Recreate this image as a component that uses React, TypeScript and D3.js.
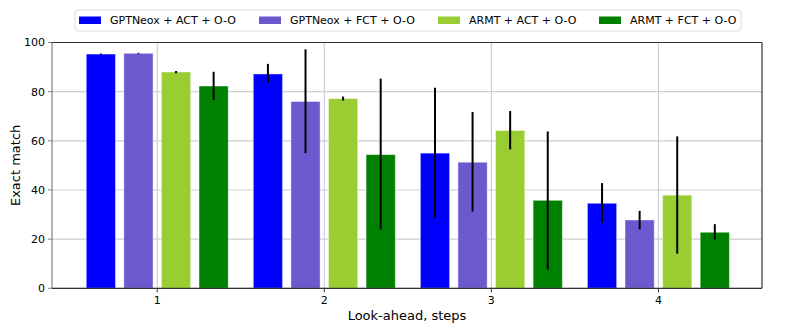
import React from 'react';
import * as d3 from 'd3';

const steps = [1, 2, 3, 4];
const seriesNames = ['GPTNeox + ACT + O-O', 'GPTNeox + FCT + O-O', 'ARMT + ACT + O-O', 'ARMT + FCT + O-O'];
const seriesColors = ['#0000ff', '#6a5acd', '#9acd32', '#008000'];

// exact match per look-ahead step
const gptActVals = [95.3, 87.2, 55.0, 34.6];
const gptFctVals = [95.6, 76.0, 51.3, 27.8];
const armtActVals = [88.0, 77.2, 64.2, 37.9];
const armtFctVals = [82.3, 54.4, 35.8, 22.8];

// error bar ends
const gptActLow = [95.0, 83.5, 28.5, 26.6];
const gptActHigh = [95.5, 91.3, 81.6, 42.8];
const gptFctLow = [95.4, 55.0, 31.2, 24.0];
const gptFctHigh = [95.8, 97.2, 71.7, 31.5];
const armtActLow = [87.5, 76.4, 56.5, 14.1];
const armtActHigh = [88.4, 78.0, 72.1, 61.8];
const armtFctLow = [76.6, 23.9, 7.6, 19.8];
const armtFctHigh = [88.1, 85.3, 63.8, 26.1];

const yTicks = [0, 20, 40, 60, 80, 100];

const W = 797;
const H = 332;
const font = 'DejaVu Sans, sans-serif';

export default function App() {
  const values = [gptActVals, gptFctVals, armtActVals, armtFctVals];
  const lows = [gptActLow, gptFctLow, armtActLow, armtFctLow];
  const highs = [gptActHigh, gptFctHigh, armtActHigh, armtFctHigh];

  const x = d3.scaleLinear().domain([0.37, 4.62]).range([52, 762]);
  const y = d3.scaleLinear().domain([0, 100]).range([288.3, 42.5]);

  const step = 0.225; // distance between bar centres
  const barW = 0.175; // bar width, in x units
  const offset = (i: number) => (i - 1.5) * step;

  const [x0, x1] = x.range();
  const [y0, y1] = y.range();

  return (
    <svg
      width={W}
      height={H}
      viewBox={`0 0 ${W} ${H}`}
      style={{ position: 'absolute', left: 0, top: 0, background: '#fff' }}
      fontFamily={font}
    >
      {/* grid */}
      <g stroke="#cfcfcf" strokeWidth={1.2}>
        {yTicks.map((t) => (
          <line key={'gy' + t} x1={x0} x2={x1} y1={y(t)} y2={y(t)} />
        ))}
        {steps.map((s) => (
          <line key={'gx' + s} x1={x(s)} x2={x(s)} y1={y0} y2={y1} />
        ))}
      </g>

      {/* bars */}
      {values.map((vals, i) => (
        <g key={'bars' + i} fill={seriesColors[i]}>
          {vals.map((v, j) => (
            <rect
              key={j}
              x={x(steps[j] + offset(i) - barW / 2)}
              width={x(barW) - x(0)}
              y={y(v)}
              height={y(0) - y(v)}
              stroke="#ffffff"
              strokeOpacity={0.45}
              strokeWidth={1}
            />
          ))}
        </g>
      ))}

      {/* error bars */}
      {values.map((vals, i) => (
        <g key={'err' + i} stroke="#000" strokeWidth={2}>
          {vals.map((_, j) => (
            <line
              key={j}
              x1={x(steps[j] + offset(i))}
              x2={x(steps[j] + offset(i))}
              y1={y(lows[i][j])}
              y2={y(highs[i][j])}
            />
          ))}
        </g>
      ))}

      {/* spines */}
      <line x1={x0} x2={x0} y1={y0} y2={y1} stroke="#808080" strokeWidth={1.2} />
      <line x1={x0} x2={x1} y1={y0} y2={y0} stroke="#333" strokeWidth={1.2} />
      <line x1={x0} x2={x1} y1={y1} y2={y1} stroke="#333" strokeWidth={1.2} />
      <line x1={x1} x2={x1} y1={y0} y2={y1} stroke="#333" strokeWidth={1.2} />

      {/* y axis */}
      {yTicks.map((t) => (
        <g key={'yt' + t}>
          <line x1={x0 - 4} x2={x0} y1={y(t)} y2={y(t)} stroke="#808080" strokeWidth={1} />
          <text x={x0 - 7} y={y(t)} dy="0.35em" textAnchor="end" fontSize={11} fill="#000">
            {t}
          </text>
        </g>
      ))}
      <text
        transform={`translate(20,${(y0 + y1) / 2}) rotate(-90)`}
        textAnchor="middle"
        fontSize={13}
        fill="#000"
      >
        Exact match
      </text>

      {/* x axis */}
      {steps.map((s) => (
        <g key={'xt' + s}>
          <line x1={x(s)} x2={x(s)} y1={y0} y2={y0 + 4} stroke="#333" strokeWidth={1} />
          <text x={x(s)} y={y0 + 16} textAnchor="middle" fontSize={11} fill="#000">
            {s}
          </text>
        </g>
      ))}
      <text x={(x0 + x1) / 2} y={320} textAnchor="middle" fontSize={13} fill="#000">
        Look-ahead, steps
      </text>

      {/* legend */}
      <rect x={75} y={10} width={666} height={21} rx={3} fill="#fff" stroke="#dddddd" strokeWidth={1} />
      {seriesNames.map((name, i) => {
        const lx = [79, 259, 438, 599][i];
        return (
          <g key={'lg' + i}>
            <rect x={lx} y={16.5} width={22} height={7.5} fill={seriesColors[i]} />
            <text x={lx + 31} y={20.5} dy="0.35em" fontSize={11} fill="#000">
              {name}
            </text>
          </g>
        );
      })}
    </svg>
  );
}
